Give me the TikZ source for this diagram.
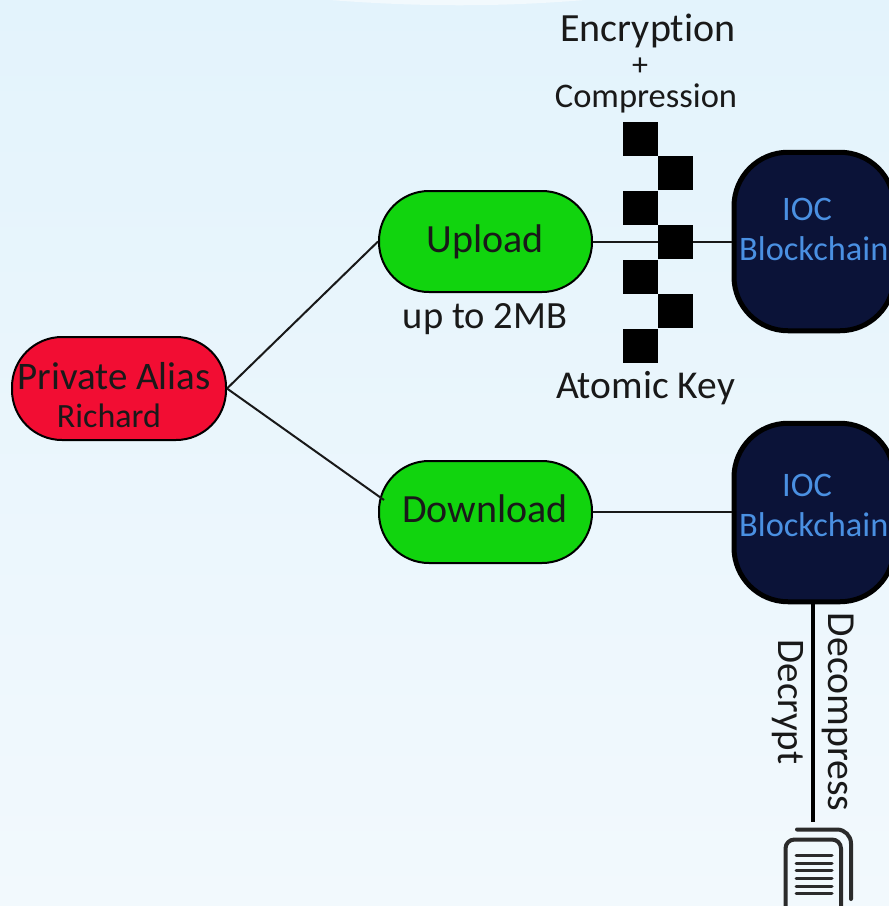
\documentclass[tikz,border=0pt]{standalone}
\usepackage{fontspec}
\setmainfont[Ligatures=NoCommon]{Carlito}
\definecolor{bgtop}{HTML}{E3F3FC}
\definecolor{bgbot}{HTML}{F2F9FD}
\definecolor{alias}{HTML}{F20D33}
\definecolor{act}{HTML}{11D40E}
\definecolor{ioc}{HTML}{0B1338}
\definecolor{ioctxt}{HTML}{4A90E2}
\definecolor{icon}{HTML}{2B2B2B}
\tikzset{
  pill/.style={draw=black,line width=2pt,rounded corners=50pt,inner sep=0pt},
  iocbox/.style={draw=black,line width=5pt,fill=ioc,rounded corners=54pt,inner sep=0pt,minimum width=160pt,minimum height=178.5pt},
  sq/.style={fill=black,inner sep=0pt,minimum size=34.6pt},
  link/.style={draw=black!90,line width=2pt},
  lbl/.style={inner sep=0pt,text=black!90},
  ioclbl/.style={inner sep=0pt,text=ioctxt,font=\fontsize{34.4}{34.4}\selectfont},
  iconline/.style={draw=icon,line width=3pt,line cap=round},
}
\begin{document}
\begin{tikzpicture}[x=1pt,y=-1pt]
\useasboundingbox (0,0) rectangle (889,906);
\clip (0,0) rectangle (889,906);
\shade[top color=bgtop,bottom color=bgbot] (0,0) rectangle (889,906);
\fill[bgbot] (330,0) .. controls (420,7) and (500,7) .. (585,0) -- cycle;

% main nodes
\node[pill,fill=alias,minimum width=214pt,minimum height=103pt] (alias) at (119,388.5) {};
\node[pill,fill=act,minimum width=213pt,minimum height=101pt] (up) at (485.5,241.5) {};
\node[pill,fill=act,minimum width=213pt,minimum height=102pt] (down) at (485.5,512) {};
\node[iocbox] (ioca) at (814,241.5) {};
\node[iocbox] (iocb) at (814,512.5) {};

% connectors
\draw[link] (alias.east) -- (up.west);
\draw[link] (alias.east) -- (384,500) coordinate (dl);
\draw[link] (up.east) -- (ioca.west);
\draw[link] (down.east) -- (down.east -| iocb.west);

% checker squares
\node[sq] (s1) at (640.5,139) {};
\node[sq] (s2) at (675.5,173) {};
\node[sq] (s3) at (640.5,208) {};
\node[sq] (s4) at (675.5,242) {};
\node[sq] (s5) at (640.5,277) {};
\node[sq] (s6) at (675.5,311) {};
\node[sq] (s7) at (640.5,346) {};

% texts
\node[lbl,font=\fontsize{39}{39}\selectfont] (tpa) at (114,376) {Private Alias};
\node[lbl,font=\fontsize{34}{34}\selectfont] (tri) at (109,416) {Richard};
\node[lbl,font=\fontsize{40}{40}\selectfont] (tup) at (485,242) {Upload};
\node[lbl,font=\fontsize{40}{40}\selectfont] (tdn) at (485,509) {Download};
\node[lbl,font=\fontsize{38.5}{38.5}\selectfont] (tsz) at (485,319) {up to 2MB};
\node[lbl,font=\fontsize{40}{40}\selectfont] (tenc) at (648,31) {Encryption};
\node[lbl,font=\fontsize{32}{32}\selectfont] (tpl) at (640,67) {+};
\node[lbl,font=\fontsize{34.5}{34.5}\selectfont] (tcom) at (646,98) {Compression};
\node[lbl,font=\fontsize{39.5}{39.5}\selectfont] (tak) at (645.5,388) {Atomic Key};
\node[ioclbl] (ta1) at (807,209) {IOC};
\node[ioclbl,anchor=west] (ta2) at (739,249) {Blockchain};
\node[ioclbl] (tb1) at (807,485) {IOC};
\node[ioclbl,anchor=west] (tb2) at (739,525) {Blockchain};
\node[lbl,rotate=-90,font=\fontsize{39.7}{39.7}\selectfont] (tdec) at (838,712) {Decompress};
\node[lbl,rotate=-90,font=\fontsize{39}{39}\selectfont] (tdc) at (788,702) {Decrypt};

% document icon
\coordinate (doc) at (813,822);
\draw[draw=black,line width=4pt] (813,603) -- (doc);
\draw[draw=icon,line width=4pt,rounded corners=9pt] (785.5,920) -- (785.5,839.5) -- (841,839.5) -- (841,920);
\draw[draw=icon,line width=4pt,line cap=round,rounded corners=14pt] (797,829.5) -- (851,829.5) -- (851,899);
\foreach \y in {855,863,870.5,878,886,893.5}
  \draw[iconline] (796,\y) -- (832,\y);
\end{tikzpicture}
\end{document}
